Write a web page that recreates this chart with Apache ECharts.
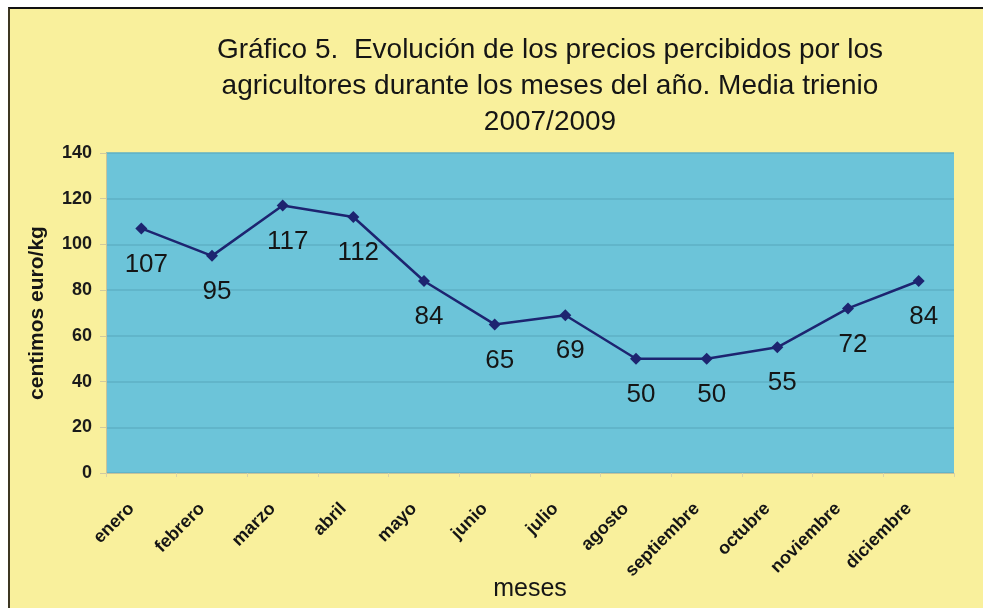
<!DOCTYPE html>
<html>
<head>
<meta charset="utf-8">
<script src="https://cdn.jsdelivr.net/npm/echarts@6/dist/echarts.min.js"></script>
<style>
  html, body { margin: 0; padding: 0; background: #ffffff; }
  .frame {
    position: absolute; left: 8px; top: 7px; right: 0; bottom: 0;
    background: #f9f09c;
    border-top: 2px solid #111111;
    border-left: 2px solid #3d3722;
  }
  #chart { position: absolute; left: 0; top: 0; width: 983px; height: 608px; }
</style>
</head>
<body>
<div class="frame"></div>
<div id="chart"></div>
<script>
// datos: media trienio 2007/2009
const months = ['enero', 'febrero', 'marzo', 'abril', 'mayo', 'junio', 'julio',
  'agosto', 'septiembre', 'octubre', 'noviembre', 'diciembre'];
const prices = [107, 95, 117, 112, 84, 65, 69, 50, 50, 55, 72, 84];
const yTicks = [0, 20, 40, 60, 80, 100, 120, 140];

const chart = echarts.init(document.getElementById('chart'));

chart.setOption({
  backgroundColor: 'transparent',
  animation: false,
  title: {
    text: 'Gráfico 5.  Evolución de los precios percibidos por los\nagricultores durante los meses del año. Media trienio\n2007/2009',
    left: 545,
    top: 27,
    textAlign: 'center',
    textStyle: {
      fontFamily: 'Liberation Sans',
      fontSize: 28,
      fontWeight: 'normal',
      color: '#151515',
      lineHeight: 36,
    },
  },
  grid: {
    left: 106, right: 29, top: 153, bottom: 135,
    containLabel: false,
    outerBoundsMode: 'none',
    show: true, backgroundColor: '#6cc4d9', borderWidth: 0,
  },
  xAxis: {
    type: 'category',
    data: months,
    boundaryGap: true,
    name: 'meses',
    nameLocation: 'middle',
    nameGap: 104,
    nameMoveOverlap: false,
    nameTextStyle: { fontFamily: 'Liberation Sans', fontSize: 25, color: '#151515' },
    axisLine: { lineStyle: { color: '#c9c39a', width: 1 } },
    axisTick: { show: true, alignWithLabel: false, length: 4, lineStyle: { color: '#d9d3a8' } },
    axisLabel: {
      rotate: 45,
      interval: 0,
      margin: 23,
      padding: [0, 14, 0, 0],
      fontFamily: 'Liberation Sans',
      fontSize: 18,
      fontWeight: 'bold',
      color: '#151515',
    },
  },
  yAxis: {
    type: 'value',
    min: yTicks[0],
    max: yTicks[yTicks.length - 1],
    interval: 20,
    name: 'centimos euro/kg',
    nameLocation: 'middle',
    nameGap: 58,
    nameRotate: 90,
    nameMoveOverlap: false,
    nameTextStyle: { fontFamily: 'Liberation Sans', fontSize: 21, fontWeight: 'bold', color: '#151515' },
    axisLine: { show: true, lineStyle: { color: '#c9c39a', width: 1 } },
    axisTick: { show: true, length: 6, lineStyle: { color: '#d0caa0' } },
    axisLabel: {
      margin: 14,
      fontFamily: 'Liberation Sans',
      fontSize: 18,
      fontWeight: 'bold',
      color: '#1a1a1a',
    },
    splitLine: { lineStyle: { color: '#5eb0c4', width: 1.5 } },
  },
  series: [
    {
      type: 'line',
      data: prices,
      symbol: 'diamond',
      symbolSize: 12,
      lineStyle: { color: '#1d2470', width: 2.5 },
      itemStyle: { color: '#1d2470' },
      label: {
        show: true,
        position: 'bottom',
        distance: 17,
        offset: [5, 0],
        fontFamily: 'Liberation Sans',
        fontSize: 26,
        color: '#151515',
      },
    },
  ],
});
</script>
</body>
</html>
